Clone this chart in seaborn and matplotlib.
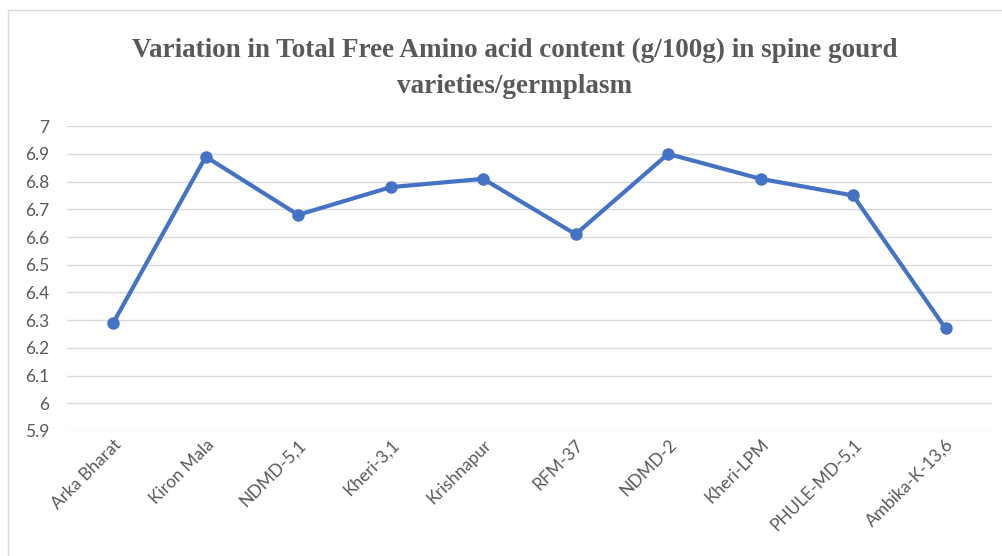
import pandas as pd
import matplotlib.pyplot as plt
import seaborn as sns
from matplotlib.patches import Rectangle

# Data
varieties = ['Arka Bharat', 'Kiron Mala', 'NDMD-5,1', 'Kheri-3,1', 'Krishnapur',
             'RFM-37', 'NDMD-2', 'Kheri-LPM', 'PHULE-MD-5,1', 'Ambika-K-13,6']
amino_acid = [6.29, 6.89, 6.68, 6.78, 6.81, 6.61, 6.90, 6.81, 6.75, 6.27]
y_ticks = [5.9, 6.0, 6.1, 6.2, 6.3, 6.4, 6.5, 6.6, 6.7, 6.8, 6.9, 7.0]
y_tick_labels = ['5.9', '6', '6.1', '6.2', '6.3', '6.4', '6.5', '6.6', '6.7', '6.8', '6.9', '7']

df = pd.DataFrame({'Variety': varieties, 'Amino': amino_acid})

sns.set_style('white')
plt.rcParams['font.family'] = ['Lato', 'DejaVu Sans']

fig = plt.figure(figsize=(10.03, 5.56), dpi=100)
ax = fig.add_axes([0.0668, 0.225, 0.922, 0.548])

sns.lineplot(data=df, x='Variety', y='Amino', ax=ax, color='#4472C4',
             linewidth=3, marker='o', markersize=9, markeredgewidth=0, sort=False)

ax.set_xlim(-0.5, len(varieties) - 0.5)
ax.set_ylim(5.9, 7.0)
ax.set_yticks(y_ticks)
ax.set_yticklabels(y_tick_labels)
ax.grid(axis='y', color='#D9D9D9', linewidth=1)
ax.set_axisbelow(True)
for s in ax.spines.values():
    s.set_visible(False)
ax.tick_params(axis='both', length=0, colors='#595959', labelsize=12.5)
ax.tick_params(axis='y', pad=13)
ax.tick_params(axis='x', pad=4)
plt.setp(ax.get_xticklabels(), rotation=45, ha='right', rotation_mode='anchor')
ax.set_xlabel('')
ax.set_ylabel('')

fig.text(0.513, 0.877, 'Variation in Total Free Amino acid content (g/100g) in spine gourd\nvarieties/germplasm',
         ha='center', va='center', fontsize=19.5, fontweight='bold', color='#595959',
         family='Liberation Serif', linespacing=1.55)

# chart frame
fig.patches.append(Rectangle((0.008, -0.05), 1.2, 1.032, transform=fig.transFigure,
                             fill=False, edgecolor='#D9D9D9', linewidth=1))

fig.savefig('out.png', dpi=100)
